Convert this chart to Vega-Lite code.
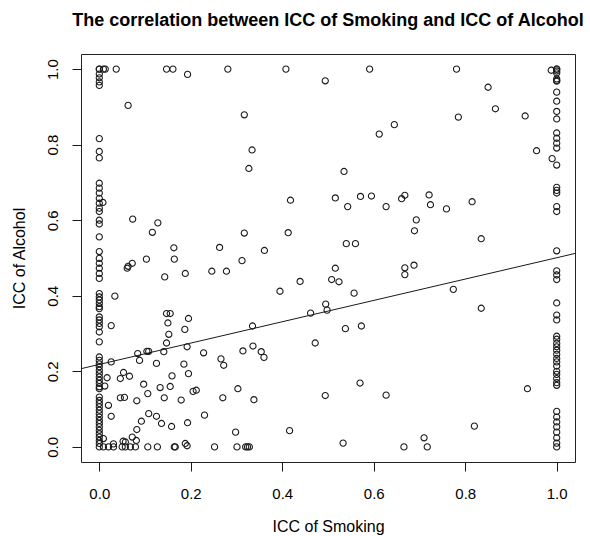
{
  "$schema": "https://vega.github.io/schema/vega-lite/v6.json",
  "width": 494,
  "height": 408,
  "autosize": {"type": "none"},
  "padding": {"left": 81, "top": 54, "right": 15, "bottom": 74},
  "background": "white",
  "config": {
    "view": {"stroke": "#222", "strokeWidth": 1},
    "font": "Liberation Sans"
  },
  "title": {
    "text": "The correlation between ICC of Smoking and ICC of Alcohol",
    "font": "Liberation Sans",
    "fontSize": 18,
    "fontWeight": "bold",
    "color": "black",
    "anchor": "middle",
    "frame": "group",
    "baseline": "alphabetic",
    "offset": 10
  },
  "datasets": {
    "pts": [
      {"smoking": 0, "alcohol": 1.0}, {"smoking": 0, "alcohol": 1.0}, {"smoking": 0.009, "alcohol": 1.0}, {"smoking": 0.013, "alcohol": 1.0},
      {"smoking": 0, "alcohol": 0.987}, {"smoking": 0, "alcohol": 0.977}, {"smoking": 0, "alcohol": 0.966}, {"smoking": 0, "alcohol": 0.957},
      {"smoking": 0, "alcohol": 0.816}, {"smoking": 0, "alcohol": 0.782}, {"smoking": 0, "alcohol": 0.765},
      {"smoking": 0, "alcohol": 0.698}, {"smoking": 0, "alcohol": 0.685}, {"smoking": 0, "alcohol": 0.672}, {"smoking": 0, "alcohol": 0.658},
      {"smoking": 0, "alcohol": 0.645}, {"smoking": 0, "alcohol": 0.632}, {"smoking": 0, "alcohol": 0.623}, {"smoking": 0.008, "alcohol": 0.647},
      {"smoking": 0, "alcohol": 0.6}, {"smoking": 0, "alcohol": 0.59}, {"smoking": 0, "alcohol": 0.556}, {"smoking": 0, "alcohol": 0.517},
      {"smoking": 0, "alcohol": 0.499}, {"smoking": 0, "alcohol": 0.486}, {"smoking": 0, "alcohol": 0.473}, {"smoking": 0, "alcohol": 0.459},
      {"smoking": 0, "alcohol": 0.446}, {"smoking": 0, "alcohol": 0.406}, {"smoking": 0, "alcohol": 0.397}, {"smoking": 0, "alcohol": 0.389},
      {"smoking": 0, "alcohol": 0.38}, {"smoking": 0, "alcohol": 0.371}, {"smoking": 0, "alcohol": 0.366}, {"smoking": 0, "alcohol": 0.344},
      {"smoking": 0, "alcohol": 0.336}, {"smoking": 0, "alcohol": 0.327}, {"smoking": 0, "alcohol": 0.318}, {"smoking": 0, "alcohol": 0.304},
      {"smoking": 0, "alcohol": 0.278}, {"smoking": 0, "alcohol": 0.238}, {"smoking": 0, "alcohol": 0.229}, {"smoking": 0, "alcohol": 0.22},
      {"smoking": 0, "alcohol": 0.212}, {"smoking": 0, "alcohol": 0.203}, {"smoking": 0, "alcohol": 0.194}, {"smoking": 0, "alcohol": 0.185},
      {"smoking": 0, "alcohol": 0.176}, {"smoking": 0, "alcohol": 0.168}, {"smoking": 0, "alcohol": 0.159}, {"smoking": 0, "alcohol": 0.154},
      {"smoking": 0, "alcohol": 0.132}, {"smoking": 0, "alcohol": 0.123}, {"smoking": 0, "alcohol": 0.115}, {"smoking": 0, "alcohol": 0.106},
      {"smoking": 0, "alcohol": 0.097}, {"smoking": 0, "alcohol": 0.088}, {"smoking": 0, "alcohol": 0.079}, {"smoking": 0, "alcohol": 0.07},
      {"smoking": 0, "alcohol": 0.062}, {"smoking": 0, "alcohol": 0.053}, {"smoking": 0, "alcohol": 0.044}, {"smoking": 0, "alcohol": 0.035},
      {"smoking": 0, "alcohol": 0.026}, {"smoking": 0, "alcohol": 0.017}, {"smoking": 0, "alcohol": 0.009}, {"smoking": 0, "alcohol": 0.0},
      {"smoking": 0.009, "alcohol": 0}, {"smoking": 0.02, "alcohol": 0}, {"smoking": 0.031, "alcohol": 0}, {"smoking": 0.05, "alcohol": 0},
      {"smoking": 0.057, "alcohol": 0}, {"smoking": 0.068, "alcohol": 0}, {"smoking": 0.079, "alcohol": 0}, {"smoking": 0.106, "alcohol": 0},
      {"smoking": 0.127, "alcohol": 0}, {"smoking": 0.164, "alcohol": 0}, {"smoking": 0.166, "alcohol": 0}, {"smoking": 0.188, "alcohol": 0.009},
      {"smoking": 0.192, "alcohol": 0.003}, {"smoking": 0.252, "alcohol": 0}, {"smoking": 0.301, "alcohol": 0}, {"smoking": 0.32, "alcohol": 0},
      {"smoking": 0.324, "alcohol": 0}, {"smoking": 0.328, "alcohol": 0}, {"smoking": 0.666, "alcohol": 0}, {"smoking": 0.717, "alcohol": 0},
      {"smoking": 1, "alcohol": 1.0}, {"smoking": 1, "alcohol": 1.0}, {"smoking": 1, "alcohol": 0.995}, {"smoking": 1, "alcohol": 0.99},
      {"smoking": 1, "alcohol": 0.974}, {"smoking": 1, "alcohol": 0.97}, {"smoking": 1, "alcohol": 0.968}, {"smoking": 1, "alcohol": 0.939},
      {"smoking": 1, "alcohol": 0.915}, {"smoking": 1, "alcohol": 0.888}, {"smoking": 1, "alcohol": 0.868}, {"smoking": 1, "alcohol": 0.831},
      {"smoking": 1, "alcohol": 0.817}, {"smoking": 1, "alcohol": 0.804}, {"smoking": 1, "alcohol": 0.791}, {"smoking": 1, "alcohol": 0.746},
      {"smoking": 1, "alcohol": 0.687}, {"smoking": 1, "alcohol": 0.679}, {"smoking": 1, "alcohol": 0.672}, {"smoking": 1, "alcohol": 0.636},
      {"smoking": 1, "alcohol": 0.623}, {"smoking": 1, "alcohol": 0.519}, {"smoking": 1, "alcohol": 0.466}, {"smoking": 1, "alcohol": 0.455},
      {"smoking": 1, "alcohol": 0.443}, {"smoking": 1, "alcohol": 0.381}, {"smoking": 1, "alcohol": 0.349}, {"smoking": 1, "alcohol": 0.336},
      {"smoking": 1, "alcohol": 0.293}, {"smoking": 1, "alcohol": 0.285}, {"smoking": 1, "alcohol": 0.274}, {"smoking": 1, "alcohol": 0.265},
      {"smoking": 1, "alcohol": 0.256}, {"smoking": 1, "alcohol": 0.245}, {"smoking": 1, "alcohol": 0.234}, {"smoking": 1, "alcohol": 0.225},
      {"smoking": 1, "alcohol": 0.214}, {"smoking": 1, "alcohol": 0.2}, {"smoking": 1, "alcohol": 0.192}, {"smoking": 1, "alcohol": 0.181},
      {"smoking": 1, "alcohol": 0.17}, {"smoking": 1, "alcohol": 0.163}, {"smoking": 1, "alcohol": 0.094}, {"smoking": 1, "alcohol": 0.079},
      {"smoking": 1, "alcohol": 0.066}, {"smoking": 1, "alcohol": 0.053}, {"smoking": 1, "alcohol": 0.039}, {"smoking": 1, "alcohol": 0.024},
      {"smoking": 1, "alcohol": 0.01}, {"smoking": 1, "alcohol": 0.0},
      {"smoking": 0.037, "alcohol": 1.0}, {"smoking": 0.147, "alcohol": 1.0}, {"smoking": 0.161, "alcohol": 1.0}, {"smoking": 0.193, "alcohol": 0.986},
      {"smoking": 0.281, "alcohol": 1.0}, {"smoking": 0.063, "alcohol": 0.904}, {"smoking": 0.317, "alcohol": 0.879}, {"smoking": 0.334, "alcohol": 0.786},
      {"smoking": 0.327, "alcohol": 0.737}, {"smoking": 0.073, "alcohol": 0.603}, {"smoking": 0.128, "alcohol": 0.593}, {"smoking": 0.116, "alcohol": 0.568},
      {"smoking": 0.317, "alcohol": 0.566}, {"smoking": 0.163, "alcohol": 0.527}, {"smoking": 0.263, "alcohol": 0.528},
      {"smoking": 0.408, "alcohol": 1.0}, {"smoking": 0.494, "alcohol": 0.969}, {"smoking": 0.591, "alcohol": 1.0}, {"smoking": 0.645, "alcohol": 0.853},
      {"smoking": 0.612, "alcohol": 0.828}, {"smoking": 0.535, "alcohol": 0.729}, {"smoking": 0.418, "alcohol": 0.653}, {"smoking": 0.516, "alcohol": 0.659},
      {"smoking": 0.543, "alcohol": 0.636}, {"smoking": 0.571, "alcohol": 0.663}, {"smoking": 0.595, "alcohol": 0.664}, {"smoking": 0.627, "alcohol": 0.636},
      {"smoking": 0.661, "alcohol": 0.657}, {"smoking": 0.668, "alcohol": 0.666}, {"smoking": 0.413, "alcohol": 0.567}, {"smoking": 0.54, "alcohol": 0.538},
      {"smoking": 0.56, "alcohol": 0.538}, {"smoking": 0.361, "alcohol": 0.52},
      {"smoking": 0.781, "alcohol": 1.0}, {"smoking": 0.85, "alcohol": 0.952}, {"smoking": 0.866, "alcohol": 0.895}, {"smoking": 0.785, "alcohol": 0.873},
      {"smoking": 0.931, "alcohol": 0.876}, {"smoking": 0.956, "alcohol": 0.784}, {"smoking": 0.99, "alcohol": 0.763}, {"smoking": 0.988, "alcohol": 0.997},
      {"smoking": 0.721, "alcohol": 0.667}, {"smoking": 0.724, "alcohol": 0.641}, {"smoking": 0.759, "alcohol": 0.63}, {"smoking": 0.815, "alcohol": 0.649},
      {"smoking": 0.693, "alcohol": 0.601}, {"smoking": 0.689, "alcohol": 0.572}, {"smoking": 0.835, "alcohol": 0.551},
      {"smoking": 0.516, "alcohol": 0.473}, {"smoking": 0.508, "alcohol": 0.443}, {"smoking": 0.524, "alcohol": 0.437}, {"smoking": 0.439, "alcohol": 0.438},
      {"smoking": 0.395, "alcohol": 0.412}, {"smoking": 0.557, "alcohol": 0.407}, {"smoking": 0.668, "alcohol": 0.474}, {"smoking": 0.668, "alcohol": 0.456},
      {"smoking": 0.688, "alcohol": 0.481}, {"smoking": 0.495, "alcohol": 0.378}, {"smoking": 0.498, "alcohol": 0.362}, {"smoking": 0.462, "alcohol": 0.354},
      {"smoking": 0.538, "alcohol": 0.313}, {"smoking": 0.573, "alcohol": 0.32}, {"smoking": 0.472, "alcohol": 0.275}, {"smoking": 0.335, "alcohol": 0.32},
      {"smoking": 0.336, "alcohol": 0.267}, {"smoking": 0.354, "alcohol": 0.252}, {"smoking": 0.36, "alcohol": 0.237}, {"smoking": 0.57, "alcohol": 0.169},
      {"smoking": 0.494, "alcohol": 0.136}, {"smoking": 0.627, "alcohol": 0.137}, {"smoking": 0.338, "alcohol": 0.125}, {"smoking": 0.416, "alcohol": 0.043},
      {"smoking": 0.533, "alcohol": 0.01}, {"smoking": 0.774, "alcohol": 0.417}, {"smoking": 0.835, "alcohol": 0.367}, {"smoking": 0.71, "alcohol": 0.024},
      {"smoking": 0.82, "alcohol": 0.055}, {"smoking": 0.936, "alcohol": 0.154},
      {"smoking": 0.061, "alcohol": 0.473}, {"smoking": 0.063, "alcohol": 0.478}, {"smoking": 0.072, "alcohol": 0.486}, {"smoking": 0.103, "alcohol": 0.497},
      {"smoking": 0.164, "alcohol": 0.497}, {"smoking": 0.312, "alcohol": 0.493}, {"smoking": 0.143, "alcohol": 0.45}, {"smoking": 0.188, "alcohol": 0.459},
      {"smoking": 0.246, "alcohol": 0.465}, {"smoking": 0.278, "alcohol": 0.465}, {"smoking": 0.034, "alcohol": 0.399}, {"smoking": 0.026, "alcohol": 0.321},
      {"smoking": 0.147, "alcohol": 0.353}, {"smoking": 0.155, "alcohol": 0.353}, {"smoking": 0.15, "alcohol": 0.328}, {"smoking": 0.195, "alcohol": 0.34},
      {"smoking": 0.187, "alcohol": 0.311}, {"smoking": 0.152, "alcohol": 0.298}, {"smoking": 0.147, "alcohol": 0.275}, {"smoking": 0.141, "alcohol": 0.252},
      {"smoking": 0.192, "alcohol": 0.265}, {"smoking": 0.104, "alcohol": 0.253}, {"smoking": 0.108, "alcohol": 0.253}, {"smoking": 0.084, "alcohol": 0.247},
      {"smoking": 0.088, "alcohol": 0.229}, {"smoking": 0.026, "alcohol": 0.225}, {"smoking": 0.125, "alcohol": 0.221}, {"smoking": 0.228, "alcohol": 0.249},
      {"smoking": 0.266, "alcohol": 0.233}, {"smoking": 0.272, "alcohol": 0.216}, {"smoking": 0.314, "alcohol": 0.254}, {"smoking": 0.185, "alcohol": 0.219},
      {"smoking": 0.017, "alcohol": 0.183}, {"smoking": 0.012, "alcohol": 0.161}, {"smoking": 0.053, "alcohol": 0.197}, {"smoking": 0.046, "alcohol": 0.181},
      {"smoking": 0.066, "alcohol": 0.187}, {"smoking": 0.097, "alcohol": 0.166}, {"smoking": 0.159, "alcohol": 0.188}, {"smoking": 0.195, "alcohol": 0.194},
      {"smoking": 0.133, "alcohol": 0.157}, {"smoking": 0.155, "alcohol": 0.16}, {"smoking": 0.106, "alcohol": 0.141}, {"smoking": 0.142, "alcohol": 0.13},
      {"smoking": 0.082, "alcohol": 0.122}, {"smoking": 0.046, "alcohol": 0.13}, {"smoking": 0.055, "alcohol": 0.131}, {"smoking": 0.179, "alcohol": 0.124},
      {"smoking": 0.205, "alcohol": 0.147}, {"smoking": 0.212, "alcohol": 0.15}, {"smoking": 0.27, "alcohol": 0.13}, {"smoking": 0.303, "alcohol": 0.154},
      {"smoking": 0.02, "alcohol": 0.11}, {"smoking": 0.026, "alcohol": 0.081}, {"smoking": 0.108, "alcohol": 0.088}, {"smoking": 0.125, "alcohol": 0.081},
      {"smoking": 0.092, "alcohol": 0.068}, {"smoking": 0.136, "alcohol": 0.062}, {"smoking": 0.158, "alcohol": 0.054}, {"smoking": 0.193, "alcohol": 0.064},
      {"smoking": 0.23, "alcohol": 0.084}, {"smoking": 0.298, "alcohol": 0.039}, {"smoking": 0.082, "alcohol": 0.046}, {"smoking": 0.072, "alcohol": 0.026},
      {"smoking": 0.081, "alcohol": 0.017}, {"smoking": 0.052, "alcohol": 0.015}, {"smoking": 0.057, "alcohol": 0.013}, {"smoking": 0.031, "alcohol": 0.008},
      {"smoking": 0.009, "alcohol": 0.022}
    ],
    "fit": [
      {"smoking": -0.04, "alcohol": 0.207},
      {"smoking": 1.04, "alcohol": 0.512}
    ]
  },
  "layer": [
    {
      "data": {"name": "pts"},
      "mark": {"type": "point", "shape": "circle", "filled": false, "stroke": "#1a1a1a", "strokeWidth": 1.1, "size": 38, "opacity": 1},
      "encoding": {
        "x": {
          "field": "smoking", "type": "quantitative",
          "scale": {"domain": [-0.04, 1.04], "nice": false, "zero": false},
          "axis": {
            "title": "ICC of Smoking",
            "values": [0, 0.2, 0.4, 0.6, 0.8, 1.0],
            "format": ".1f",
            "grid": false, "domain": false,
            "ticks": true, "tickSize": 9, "tickColor": "#1a1a1a", "tickWidth": 1,
            "labelFont": "Liberation Sans", "labelFontSize": 15, "labelColor": "black",
            "labelPadding": 15, "labelBaseline": "top",
            "titleFont": "Liberation Sans", "titleFontSize": 16, "titleFontWeight": "normal", "titleColor": "black",
            "titleX": 247, "titleY": 69, "titleBaseline": "alphabetic", "titleAlign": "center"
          }
        },
        "y": {
          "field": "alcohol", "type": "quantitative",
          "scale": {"domain": [-0.04, 1.04], "nice": false, "zero": false},
          "axis": {
            "title": "ICC of Alcohol",
            "values": [0, 0.2, 0.4, 0.6, 0.8, 1.0],
            "format": ".1f",
            "grid": false, "domain": false,
            "ticks": true, "tickSize": 9, "tickColor": "#1a1a1a", "tickWidth": 1,
            "labelFont": "Liberation Sans", "labelFontSize": 15, "labelColor": "black",
            "labelAngle": 270, "labelAlign": "center", "labelBaseline": "alphabetic", "labelPadding": 15,
            "titleFont": "Liberation Sans", "titleFontSize": 16, "titleFontWeight": "normal", "titleColor": "black",
            "titleAngle": 270, "titleX": -57, "titleY": 204, "titleBaseline": "alphabetic", "titleAlign": "center"
          }
        }
      }
    },
    {
      "data": {"name": "fit"},
      "mark": {"type": "line", "color": "#1a1a1a", "strokeWidth": 1, "clip": true},
      "encoding": {
        "x": {"field": "smoking", "type": "quantitative"},
        "y": {"field": "alcohol", "type": "quantitative"}
      }
    }
  ]
}
